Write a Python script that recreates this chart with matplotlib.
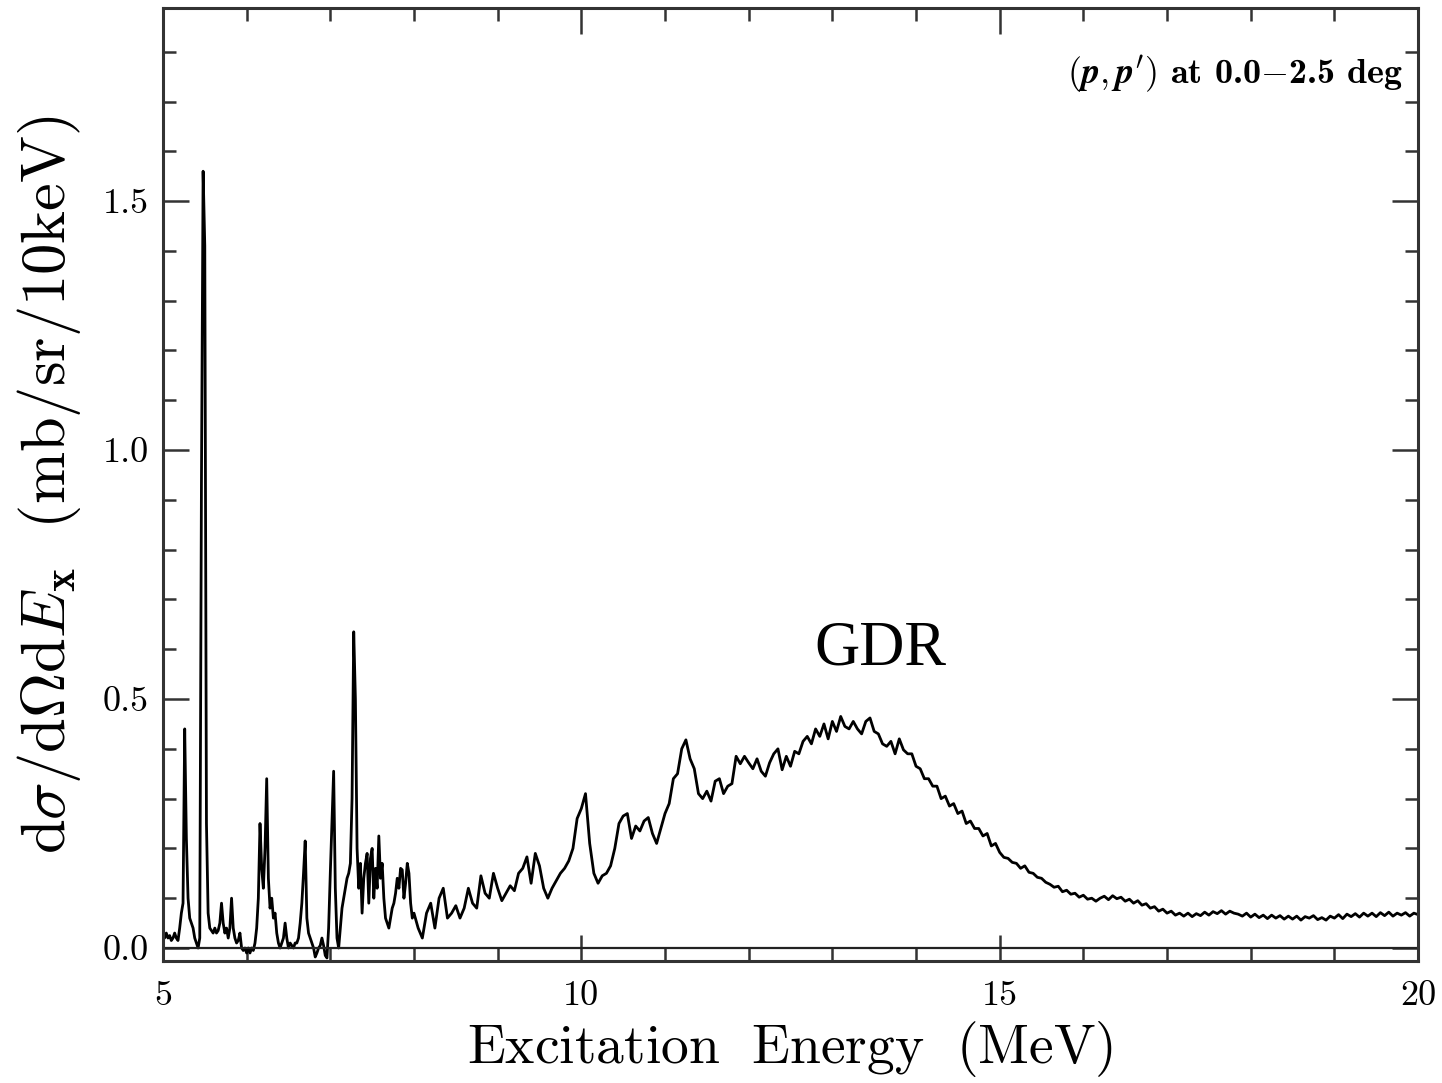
import numpy as np
import matplotlib
matplotlib.use("Agg")
import matplotlib.pyplot as plt
from matplotlib.ticker import MultipleLocator, FormatStrFormatter

plt.rcParams["mathtext.fontset"] = "cm"

# discrete-state region, 20 keV bins from 5.00 to 7.98 MeV
ex_low = np.round(np.arange(5.0, 7.99, 0.02), 2)
xs_low = [
    0.025, 0.02, 0.03, 0.02, 0.025, 0.015, 0.02, 0.03, 0.02, 0.015,
    0.04, 0.07, 0.09, 0.44, 0.22, 0.10, 0.06, 0.05, 0.04, 0.02,
    0.01, 0.0, 0.02, 0.93, 1.56, 1.41, 0.25, 0.07, 0.04, 0.035,
    0.03, 0.04, 0.03, 0.035, 0.05, 0.09, 0.05, 0.03, 0.04, 0.02,
    0.04, 0.10, 0.04, 0.02, 0.01, 0.015, 0.03, 0.0, -0.005, 0.0,
    -0.01, 0.0, -0.01, 0.0, -0.005, 0.01, 0.04, 0.10, 0.25, 0.16,
    0.12, 0.2, 0.34, 0.14, 0.08, 0.10, 0.06, 0.07, 0.03, 0.01,
    0.0, 0.01, 0.02, 0.05, 0.02, 0.0, 0.01, 0.005, 0.0, 0.01,
    0.01, 0.02, 0.05, 0.09, 0.15, 0.215, 0.06, 0.03, 0.02, 0.01,
    0.0, -0.018, -0.01, 0.0, 0.005, 0.02, 0.005, -0.015, -0.02, 0.04,
    0.15, 0.25, 0.355, 0.12, 0.02, 0.0, 0.04, 0.08, 0.10, 0.12,
    0.14, 0.15, 0.17, 0.30, 0.635, 0.50, 0.20, 0.12, 0.17, 0.07,
    0.14, 0.17, 0.19, 0.09, 0.18, 0.20, 0.10, 0.16, 0.12, 0.225,
    0.14, 0.17, 0.10, 0.06, 0.05, 0.04, 0.06, 0.08, 0.09, 0.11,
    0.14, 0.12, 0.16, 0.157, 0.10, 0.13, 0.17, 0.15, 0.09, 0.06,
]

# continuum and GDR region, 50 keV bins from 8.00 to 20.00 MeV
ex_high = np.round(np.arange(8.0, 20.001, 0.05), 2)
xs_high = [
    0.07, 0.04, 0.02, 0.07, 0.09, 0.04, 0.10, 0.12, 0.06, 0.07,
    0.085, 0.06, 0.08, 0.12, 0.09, 0.08, 0.145, 0.11, 0.10, 0.15,
    0.12, 0.095, 0.11, 0.125, 0.115, 0.15, 0.16, 0.183, 0.13, 0.19,
    0.165, 0.12, 0.10, 0.12, 0.135, 0.15, 0.16, 0.175, 0.20, 0.26,
    0.28, 0.31, 0.21, 0.15, 0.13, 0.145, 0.15, 0.165, 0.20, 0.25,
    0.265, 0.27, 0.22, 0.245, 0.235, 0.255, 0.262, 0.23, 0.21, 0.24,
    0.27, 0.29, 0.34, 0.35, 0.40, 0.418, 0.38, 0.36, 0.31, 0.30,
    0.315, 0.295, 0.335, 0.34, 0.31, 0.325, 0.33, 0.385, 0.37, 0.385,
    0.372, 0.36, 0.38, 0.355, 0.345, 0.372, 0.39, 0.40, 0.358, 0.385,
    0.365, 0.395, 0.39, 0.415, 0.425, 0.41, 0.44, 0.425, 0.45, 0.42,
    0.455, 0.435, 0.465, 0.445, 0.44, 0.455, 0.44, 0.43, 0.455, 0.462,
    0.435, 0.43, 0.41, 0.405, 0.415, 0.39, 0.42, 0.398, 0.39, 0.39,
    0.365, 0.36, 0.34, 0.34, 0.325, 0.325, 0.30, 0.305, 0.285, 0.29,
    0.27, 0.275, 0.25, 0.255, 0.24, 0.24, 0.225, 0.23, 0.205, 0.21,
    0.192, 0.182, 0.18, 0.172, 0.17, 0.16, 0.165, 0.152, 0.15, 0.142,
    0.14, 0.132, 0.128, 0.122, 0.124, 0.113, 0.116, 0.108, 0.11, 0.102,
    0.106, 0.098, 0.10, 0.094, 0.10, 0.104, 0.097, 0.105, 0.099, 0.102,
    0.094, 0.098, 0.09, 0.095, 0.086, 0.089, 0.08, 0.083, 0.074, 0.078,
    0.07, 0.074, 0.066, 0.07, 0.064, 0.07, 0.063, 0.069, 0.065, 0.072,
    0.066, 0.073, 0.069, 0.075, 0.068, 0.074, 0.07, 0.068, 0.064, 0.07,
    0.062, 0.068, 0.061, 0.066, 0.059, 0.066, 0.06, 0.065, 0.058, 0.064,
    0.058, 0.064, 0.056, 0.063, 0.06, 0.065, 0.057, 0.061, 0.056, 0.064,
    0.06, 0.067, 0.059, 0.068, 0.063, 0.069, 0.062, 0.07, 0.064, 0.07,
    0.063, 0.071, 0.065, 0.072, 0.064, 0.07, 0.066, 0.071, 0.064, 0.07,
    0.067,
]

energy = np.concatenate([ex_low, ex_high])
sigma = np.concatenate([xs_low, xs_high])

fig = plt.figure(figsize=(14.42, 10.83), dpi=100)
ax = fig.add_axes([0.113, 0.1127, 0.8704, 0.88])

ax.plot(energy, sigma, color="black", lw=2.0)
ax.axhline(0.0, color="#222222", lw=1.6)

ax.set_xlim(5, 20)
ax.set_ylim(-0.026, 1.888)

ax.xaxis.set_major_locator(MultipleLocator(5))
ax.xaxis.set_minor_locator(MultipleLocator(1))
ax.yaxis.set_major_locator(MultipleLocator(0.5))
ax.yaxis.set_minor_locator(MultipleLocator(0.1))
ax.yaxis.set_major_formatter(FormatStrFormatter("%.1f"))

ax.tick_params(which="both", direction="in", top=True, right=True,
               color="#333333", width=1.8)
ax.tick_params(which="major", length=19)
ax.tick_params(which="minor", length=9.5)
ax.tick_params(axis="y", labelsize=26, pad=10)
ax.tick_params(axis="x", labelsize=26, pad=14)
for lab in ax.get_xticklabels() + ax.get_yticklabels():
    lab.set_family("cmr10")

for sp in ax.spines.values():
    sp.set_linewidth(2.2)
    sp.set_color("#333333")

ax.set_xlabel(r"$\mathrm{Excitation\ \ Energy\ \ (MeV)}$", fontsize=40, labelpad=5)
ax.set_ylabel(r"$\mathrm{d}\sigma/\mathrm{d}\Omega\mathrm{d}E_{\mathbf{x}}\ \ \mathrm{(mb/sr/10keV)}$",
              fontsize=45, labelpad=14)

ax.text(0.988, 0.952, r"$(\boldsymbol{p},\boldsymbol{p}')$ at 0.0$-$2.5 deg",
        transform=ax.transAxes, ha="right", va="top", fontsize=26, family="cmb10")
ax.text(13.58, 0.60, "GDR", ha="center", va="center", fontsize=45,
        family="Liberation Serif")

fig.savefig("out.png", dpi=100)
